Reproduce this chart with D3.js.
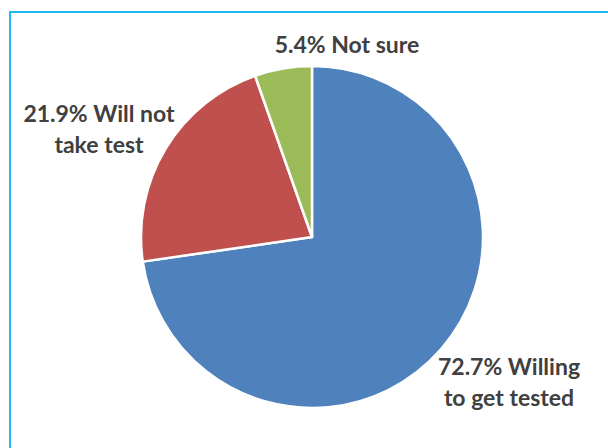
<!DOCTYPE html>
<html>
<head>
<meta charset="utf-8">
<script src="https://cdn.jsdelivr.net/npm/d3@7"></script>
<style>
  body { margin: 0; background: #fff; }
  svg { display: block; }
  .lbl { font-family: Lato, "Open Sans", sans-serif; font-weight: bold; fill: #404040; }
</style>
</head>
<body>
<svg id="chart" width="608" height="448"></svg>
<script>
// data
var categories = ["Willing to get tested", "Will not take test", "Not sure"];
var values = [72.7, 21.9, 5.4];
var labelLines = [["72.7% Willing", "to get tested"], ["21.9% Will not", "take test"], ["5.4% Not sure"]];
var colors = ["#4f81bd", "#c0504d", "#9bbb59"];

// layout
var cx = 312, cy = 237, radius = 171;
var labelPos = [[509, 367], [99, 114], [347, 45]];

var svg = d3.select("#chart");

// frame (open on the right and bottom)
svg.append("path")
  .attr("d", "M640,12H10V460")
  .attr("fill", "none")
  .attr("stroke", "#1fb8f0")
  .attr("stroke-width", 2);

var pie = d3.pie().sort(null).value(function(d) { return d; });
var arc = d3.arc().innerRadius(0).outerRadius(radius);

var g = svg.append("g").attr("transform", "translate(" + cx + "," + cy + ")");

g.selectAll("path")
  .data(pie(values))
  .enter().append("path")
  .attr("d", arc)
  .attr("fill", function(d, i) { return colors[i]; })
  .attr("stroke", "#fff")
  .attr("stroke-width", 2.5)
  .attr("stroke-linejoin", "round");

var labels = svg.selectAll("text.lbl")
  .data(labelLines)
  .enter().append("text")
  .attr("class", "lbl")
  .attr("text-anchor", "middle")
  .attr("font-size", 23)
  .attr("x", function(d, i) { return labelPos[i][0]; })
  .attr("y", function(d, i) { return labelPos[i][1]; });

labels.selectAll("tspan")
  .data(function(d, i) { return d.map(function(t) { return {t: t, x: labelPos[i][0]}; }); })
  .enter().append("tspan")
  .attr("x", function(d) { return d.x; })
  .attr("dy", function(d, j) { return j === 0 ? "0.35em" : 31; })
  .text(function(d) { return d.t; });
</script>
</body>
</html>
